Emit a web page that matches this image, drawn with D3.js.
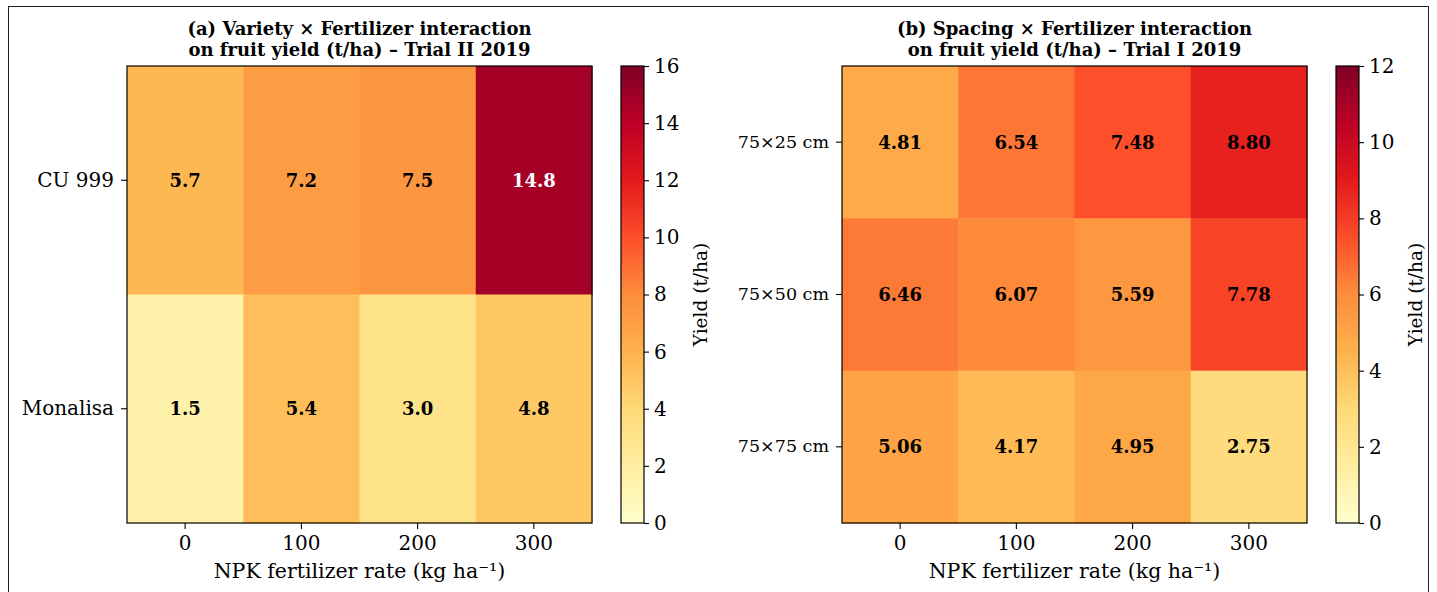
<!DOCTYPE html>
<html><head><meta charset="utf-8">
<script src="https://cdn.jsdelivr.net/npm/d3@7"></script>
<style>body{margin:0;background:#fff}svg{display:block}text{font-family:"DejaVu Serif",serif}</style>
</head><body><svg id="c" width="1437" height="592"></svg>
<script>
const fertRates = [0, 100, 200, 300];
const varieties = ["CU 999", "Monalisa"];
const yieldVariety = [[5.7, 7.2, 7.5, 14.8], [1.5, 5.4, 3.0, 4.8]];
const spacings = ["75×25 cm", "75×50 cm", "75×75 cm"];
const yieldSpacing = [[4.81, 6.54, 7.48, 8.80], [6.46, 6.07, 5.59, 7.78], [5.06, 4.17, 4.95, 2.75]];
const cbTicksA = [0, 2, 4, 6, 8, 10, 12, 14, 16];
const cbTicksB = [0, 2, 4, 6, 8, 10, 12];
const titlesA = ["(a) Variety × Fertilizer interaction", "on fruit yield (t/ha) – Trial II 2019"];
const titlesB = ["(b) Spacing × Fertilizer interaction", "on fruit yield (t/ha) – Trial I 2019"];
const ylOrRd = ["#ffffcc","#ffeda0","#fed976","#feb24c","#fd8d3c","#fc4e2a","#e31a1c","#bd0026","#800026"];

const svg = d3.select("#c");
svg.append("rect").attr("x",8.5).attr("y",6.5).attr("width",1420).attr("height",600)
  .attr("fill","none").attr("stroke","#222").attr("stroke-width",1);

function panel(opt){
  const {x0,x1,y0,y1,rows,data,vmax,ticks,titles,decimals,cbx,yfs} = opt;
  const g = svg.append("g");
  const xs = d3.scaleBand().domain(fertRates).range([x0,x1]).padding(0);
  const ys = d3.scaleBand().domain(rows).range([y0,y1]).padding(0);
  const cs = d3.scaleLinear().domain(d3.range(9).map(i=>i*vmax/8)).range(ylOrRd).interpolate(d3.interpolateRgb).clamp(true);
  rows.forEach((r,i)=>fertRates.forEach((f,j)=>{
    const v = data[i][j];
    g.append("rect").attr("x",xs(f)).attr("y",ys(r)).attr("width",xs.bandwidth()+0.5).attr("height",ys.bandwidth()+0.5).attr("fill",cs(v));
    g.append("text").attr("x",xs(f)+xs.bandwidth()/2).attr("y",ys(r)+ys.bandwidth()/2).attr("dy","0.36em")
      .attr("text-anchor","middle").attr("font-weight","bold").attr("font-size",18)
      .attr("fill", v/vmax>0.75?"#fff":"#000").text(v.toFixed(decimals));
  }));
  g.append("rect").attr("x",x0).attr("y",y0).attr("width",x1-x0).attr("height",y1-y0).attr("fill","none").attr("stroke","#000").attr("stroke-width",1.2);
  const xa = g.append("g").attr("transform",`translate(0,${y1})`).call(d3.axisBottom(xs).tickSize(6).tickPadding(7));
  const ya = g.append("g").attr("transform",`translate(${x0},0)`).call(d3.axisLeft(ys).tickSize(6).tickPadding(7));
  [xa,ya].forEach(a=>{a.select(".domain").remove();a.selectAll("text").attr("font-family","DejaVu Serif").attr("font-size",20).attr("fill","#000");a.selectAll("line").attr("stroke","#000").attr("stroke-width",1.1);});
  ya.selectAll("text").attr("font-size",yfs);
  g.append("text").attr("x",(x0+x1)/2).attr("y",y1+55).attr("text-anchor","middle").attr("font-size",20.5).text("NPK fertilizer rate (kg ha⁻¹)");
  titles.forEach((t,i)=>g.append("text").attr("x",(x0+x1)/2).attr("y",34.5+i*21).attr("text-anchor","middle").attr("font-weight","bold").attr("font-size",18).text(t));
  // colorbar
  const cw = 23;
  const cy = d3.scaleLinear().domain([0,vmax]).range([y1,y0]);
  const id = "grad"+cbx;
  const grad = svg.append("defs").append("linearGradient").attr("id",id).attr("x1",0).attr("y1",1).attr("x2",0).attr("y2",0);
  ylOrRd.forEach((c,i)=>grad.append("stop").attr("offset",i/8).attr("stop-color",c));
  g.append("rect").attr("x",cbx).attr("y",y0).attr("width",cw).attr("height",y1-y0).attr("fill",`url(#${id})`).attr("stroke","#000").attr("stroke-width",1.2);
  const ca = g.append("g").attr("transform",`translate(${cbx+cw},0)`).call(d3.axisRight(cy).tickValues(ticks).tickSize(5).tickPadding(5));
  ca.select(".domain").remove();
  ca.selectAll("text").attr("font-family","DejaVu Serif").attr("font-size",20).attr("fill","#000");
  ca.selectAll("line").attr("stroke","#000").attr("stroke-width",1.1);
  g.append("text").attr("transform",`translate(${cbx+cw+63},${(y0+y1)/2}) rotate(-90)`).attr("text-anchor","middle").attr("font-size",18.5).text("Yield (t/ha)");
}
panel({x0:127,x1:592,y0:66,y1:523,rows:varieties,data:yieldVariety,vmax:16,ticks:cbTicksA,titles:titlesA,decimals:1,cbx:621,yfs:20});
panel({x0:842,x1:1307,y0:66,y1:523,rows:spacings,data:yieldSpacing,vmax:12,ticks:cbTicksB,titles:titlesB,decimals:2,cbx:1336,yfs:17.5});
</script></body></html>
